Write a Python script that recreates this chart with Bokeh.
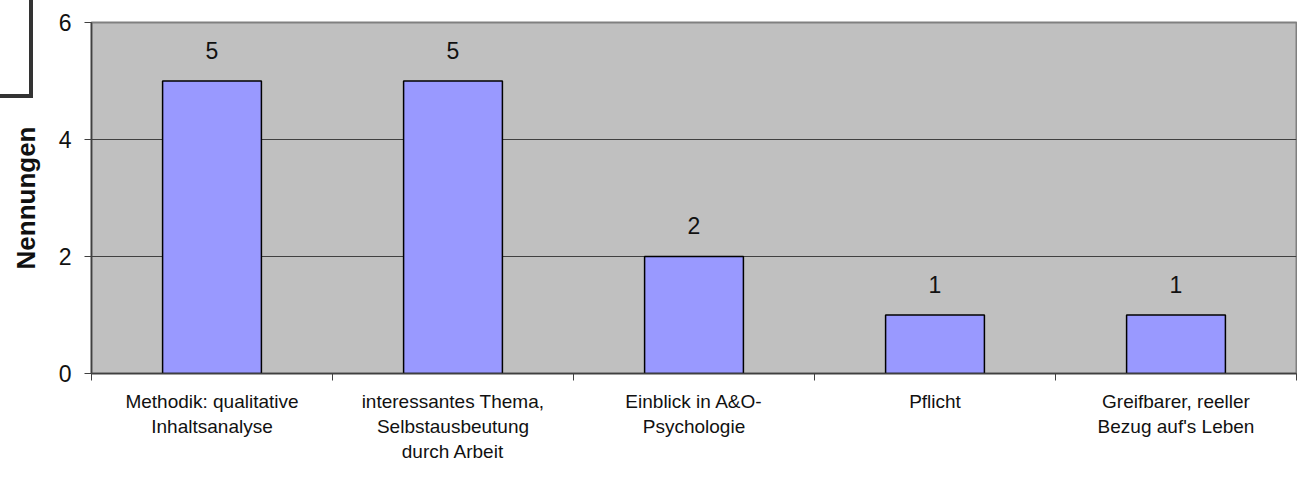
from bokeh.plotting import figure
from bokeh.models import ColumnDataSource, FixedTicker, Range1d, InlineStyleSheet
from bokeh.core.properties import value
from bokeh.embed import file_html
from bokeh.resources import INLINE

categories = [
    "Methodik: qualitative\nInhaltsanalyse",
    "interessantes Thema,\nSelbstausbeutung\ndurch Arbeit",
    "Einblick in A&O-\nPsychologie",
    "Pflicht",
    "Greifbarer, reeller\nBezug auf's Leben",
]
values = [5, 5, 2, 1, 1]
y_ticks = [0, 2, 4, 6]

FONT = "Liberation Sans"

x_centers = [i + 0.5 for i in range(len(categories))]
src = ColumnDataSource(dict(x=x_centers, top=values, label=[str(v) for v in values]))

p = figure(width=1297, height=476, output_backend="svg", toolbar_location=None,
           x_range=Range1d(0, len(categories)), y_range=Range1d(0, 6),
           min_border_left=91, min_border_right=1, min_border_top=22, min_border_bottom=103)

p.background_fill_color = "#C0C0C0"
p.border_fill_color = "white"
p.outline_line_color = "#808080"
p.outline_line_width = 2

p.vbar(x="x", top="top", width=0.41, bottom=0, source=src,
       fill_color="#9999FF", line_color="black", line_width=1.5)

p.text(x="x", y="top", text="label", source=src, y_offset=-31,
       text_align="center", text_baseline="middle",
       text_font=value(FONT), text_font_size="23px", text_color="#111111")

xa = p.xaxis[0]
xa.ticker = FixedTicker(ticks=x_centers, minor_ticks=list(range(len(categories) + 1)))
xa.major_label_overrides = {x: c for x, c in zip(x_centers, categories)}
xa.major_tick_out = 0
xa.major_tick_in = 0
xa.minor_tick_out = 7
xa.minor_tick_in = 0
xa.minor_tick_line_color = "#404040"
xa.axis_line_color = "#404040"
xa.axis_line_width = 1.5
xa.major_label_text_font = FONT
xa.major_label_text_font_size = "19px"
xa.major_label_text_color = "#111111"
xa.major_label_text_line_height = 1.2
xa.major_label_standoff = 10

ya = p.yaxis[0]
ya.ticker = FixedTicker(ticks=y_ticks, minor_ticks=[])
ya.major_tick_out = 7
ya.major_tick_in = 0
ya.major_tick_line_color = "#404040"
ya.axis_line_color = "#404040"
ya.axis_line_width = 1.5
ya.major_label_text_font = FONT
ya.major_label_text_font_size = "23px"
ya.major_label_text_color = "#111111"
ya.major_label_standoff = 13
ya.axis_label = "Nennungen"
ya.axis_label_text_font = FONT
ya.axis_label_text_font_size = "26px"
ya.axis_label_text_font_style = "bold"
ya.axis_label_text_color = "#111111"
ya.axis_label_standoff = 15

p.xgrid.grid_line_color = None
p.ygrid.grid_line_color = "#404040"
p.ygrid.grid_line_width = 1

# decorative bracket in the top-left corner (drawn outside the plot frame)
p.stylesheets = [InlineStyleSheet(css="""
:host::after {
  content: "";
  position: absolute;
  left: -10px;
  top: -10px;
  width: 43px;
  height: 108px;
  box-sizing: border-box;
  border-right: 4px solid #333333;
  border-bottom: 4px solid #333333;
  pointer-events: none;
  z-index: 10;
}
""")]

open("out.html", "w").write(file_html(p, INLINE))
